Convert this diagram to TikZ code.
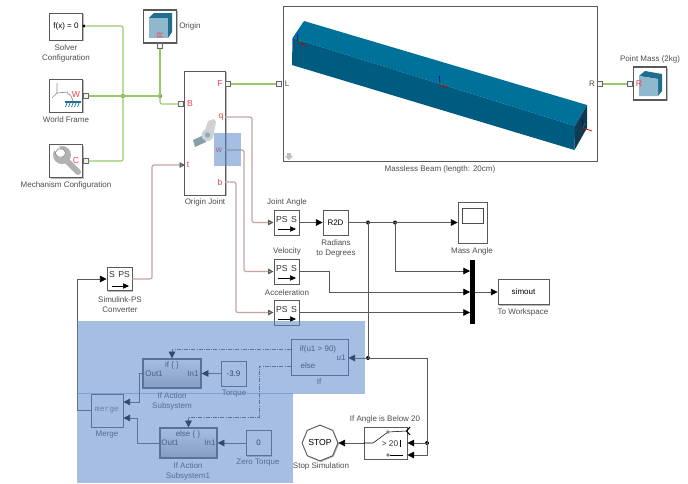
\documentclass[tikz,border=0pt]{standalone}
\usepackage{fontspec}
\setmainfont{Liberation Sans}
\setmonofont{Liberation Mono}
\usetikzlibrary{arrows.meta,shapes.geometric,shadows}
\definecolor{physgreen}{HTML}{97CB68}
\definecolor{physred}{HTML}{C9A3A3}
\definecolor{portred}{HTML}{F0444C}
\definecolor{beamtop}{HTML}{007299}
\definecolor{beamfront}{HTML}{005B80}
\definecolor{beamend}{HTML}{0F3A50}
\definecolor{cubelight}{HTML}{8FB8CC}
\definecolor{cubedark}{HTML}{1F6E90}
\definecolor{selblue}{HTML}{5B88C8}
\tikzset{
	sz/.style 2 args={minimum width=#1*0.75pt,minimum height=#2*0.75pt},
	block/.style={draw=black!65,fill=white,line width=0.7pt,inner sep=0pt,font=\fontsize{6}{7}\selectfont,
		drop shadow={shadow xshift=0.8pt,shadow yshift=-0.8pt,fill=black!45,opacity=0.6}},
	actionblock/.style={block,line width=1.1pt,top color=white,bottom color=black!28},
	lbl/.style={inner sep=0pt,align=center,text=black!70,font=\fontsize{6}{7.6}\selectfont},
	intext/.style={inner sep=0pt,text=black!80,font=\fontsize{6}{7}\selectfont},
	portlbl/.style={inner sep=0pt,text=portred,font=\fontsize{6.5}{7}\selectfont},
	port/.style={draw=black!60,fill=black!5,line width=0.4pt,minimum size=3.6pt,inner sep=0pt},
	jdot/.style={circle,fill=black,minimum size=3pt,inner sep=0pt},
	gdot/.style={circle,fill=physgreen!70!black,minimum size=3.2pt,inner sep=0pt},
	physg/.style={draw=physgreen,line width=0.9pt,rounded corners=1.5pt},
	physr/.style={draw=physred,line width=0.9pt,rounded corners=1.5pt,
		-{Triangle[open,length=4pt,width=4pt,color=black!65]}},
	sig/.style={draw=black!65,line width=0.6pt,-{Triangle[length=5pt,width=5pt,color=black]}},
	wire/.style={draw=black!65,line width=0.6pt},
	action/.style={draw=black!65,line width=0.5pt,densely dashdotted,-{Triangle[length=5pt,width=5pt,color=black]}},
	sel/.style={fill=selblue,opacity=0.55,draw=none}
}
\begin{document}
\begin{tikzpicture}[x=0.75pt,y=-0.75pt]
	\useasboundingbox (0,0) rectangle (688,483);

	% Physical blocks
	\node[block,sz={33}{27}] (solver) at (66,26.5) {f(x) = 0};
	\node[lbl] (solverlbl) at (66,53) {Solver\\Configuration};
	\node[circle,fill=black,minimum size=2.5pt,inner sep=0pt] (solverp) at (84,26) {};
	\node[block,sz={33}{33}] (world) at (66,95.5) {};
	\node[lbl] (worldlbl) at (66,120) {World Frame};
	\node[port] (worldp) at (86,96) {};
	\node[block,sz={33}{33}] (mech) at (66,161) {};
	\node[lbl] (mechlbl) at (66,185.5) {Mechanism Configuration};
	\node[port] (mechp) at (86,161) {};
	\node[block,line width=0.9pt,sz={33}{33}] (origin) at (160,26.5) {};
	\node[lbl,anchor=west] (originlbl) at (179,26.5) {Origin};
	\node[port] (originp) at (160,46) {};
	\node[block,sz={41}{124}] (joint) at (205,133) {};
	\node[lbl] (jointlbl) at (205,202) {Origin Joint};
	\node[port] (jointb) at (181,104) {};
	\node[port] (jointf) at (228,84) {};
	\coordinate (jointq) at (225,117);
	\coordinate (jointw) at (225,150);
	\coordinate (jointt) at (185,165);
	\coordinate (jointbb) at (225,182);
	\node[block,sz={314}{155}] (beam) at (440,83.5) {};
	\node[lbl] (beamlbl) at (440,169) {Massless Beam (length: 20cm)};
	\node[port] (beaml) at (279,84) {};
	\node[port] (beamr) at (600,84) {};
	\node[block,line width=0.9pt,sz={33}{33}] (mass) at (650,83.5) {};
	\node[lbl] (masslbl) at (650,59) {Point Mass (2kg)};
	\node[port] (massp) at (630,84) {};

	% Beam
	\fill[beamtop] (292.5,38) -- (304,21) -- (587,105) -- (575,126) -- cycle;
	\fill[beamfront] (292.5,38) -- (575,126) -- (574.5,150) -- (292,65) -- cycle;
	\fill[beamend] (575,126) -- (587,105) -- (587,128) -- (574.5,150) -- cycle;
	\foreach \ax/\ay in {298/43,440/85,583/128}{
		\draw[blue!80!black,line width=0.5pt] (\ax,\ay) -- (\ax-0.5,\ay-9);
		\draw[green!60!black,line width=0.5pt] (\ax,\ay) -- (\ax+2,\ay-5);
		\draw[red!80!black,line width=0.5pt] (\ax,\ay) -- (\ax+9,\ay+3);
	}
	\fill[black!25] (287,153) -- (291,153) -- (291,156) -- (293,156) -- (289,160) -- (285,156) -- (287,156) -- cycle;
	\node[intext,text=black!70] (beamltxt) at (287,84) {L};
	\node[intext,text=black!70] (beamrtxt) at (592,84) {R};

	% Cubes
	\fill[cubedark] (149,18) -- (154,13) -- (172,13) -- (172,32) -- (168,38) -- (168,18) -- cycle;
	\fill[cubedark] (149,18) -- (154,13) -- (172,13) -- (168,18) -- cycle;
	\fill[cubelight] (149,18) -- (168,18) -- (168,38) -- (149,38) -- cycle;
	\node[portlbl,rotate=90] (originr) at (160,35.5) {R};
	\fill[cubedark] (639,76) -- (645,71) -- (662,74) -- (662,91) -- (658,96) -- (658,79) -- cycle;
	\fill[cubelight] (639,76) -- (658,79) -- (658,96) -- (639,96) -- cycle;
	\node[portlbl] (massr) at (639,84) {R};

	% World frame icon
	\draw[black!45,line width=0.5pt] (57,83) -- (57,93) -- (68,92);
	\draw[black!45,line width=0.5pt] (57,93) -- (52,98);
	\draw[black!45,line width=0.5pt] (67,93) to[bend left=25] (73,101);
	\fill[cubedark] (65,101) rectangle (81,103);
	\foreach \hx in {67,70,73,76,79}{
		\draw[cubedark,line width=0.5pt] (\hx,103) -- (\hx-1.5,107);
	}
	\node[portlbl] (worldw) at (76,95) {W};

	% Wrench icon
	\draw[black!30,line width=4.5pt,line cap=round] (62,156) -- (78,172);
	\fill[black!30] (62,155) circle (9);
	\fill[white] (53,148) -- (58,146) -- (66,154) -- (60,158) -- cycle;
	\draw[black!50,fill=white,line width=0.4pt] (58,149) -- (63,149) -- (66,153) -- (63,157) -- (58,157) -- (55,153) -- cycle;
	\node[portlbl] (mechc) at (76,161) {C};

	% Joint icon
	\fill[black!18] (208,121) -- (214,119) -- (216,122) -- (213,137) -- (204,134) -- cycle;
	\fill[cubedark!60!black!50] (193,140) -- (204,135) -- (206,142) -- (195,147) -- cycle;
	\fill[black!18] (207.5,135) circle (6);
	\fill[cubedark!55] (207.5,135) circle (2.7);
	\node[portlbl] (jointF) at (220,84) {F};
	\node[portlbl] (jointB) at (190,104) {B};
	\node[portlbl] (jointQ) at (221,117) {q};
	\node[portlbl] (jointW) at (219,150) {w};
	\node[portlbl] (jointT) at (188,165) {t};
	\node[portlbl] (jointBB) at (220,182) {b};

	% Signal blocks
	\foreach \nm/\ypos in {anglepos/222.5,velpos/271.5,accpos/312.5}{
		\node[block,sz={25}{25}] (\nm) at (286.5,\ypos) {};
		\node[intext,font=\fontsize{6.5}{7}\selectfont] (\nm txt) at (286.5,\ypos-3) {PS\hspace{2.5pt}S};
		\draw[line width=0.4pt,-{Triangle[length=4.5pt,width=4pt]}] (278,\ypos+6.5) -- (296,\ypos+6.5);
	}
	\node[lbl] (anglelbl) at (287,202) {Joint Angle};
	\node[lbl] (vellbl) at (287,251) {Velocity};
	\node[lbl] (acclbl) at (287,293) {Acceleration};
	\node[block,sz={25}{25}] (r2d) at (335.5,222.5) {R2D};
	\node[lbl] (r2dlbl) at (336,248) {Radians\\to Degrees};
	\node[block,sz={29}{41}] (scope) at (472.5,222.5) {};
	\node[draw=black!70,fill=white,line width=0.4pt,sz={21}{15},inner sep=0pt] (screen) at (472.5,215.5) {};
	\node[lbl] (scopelbl) at (472,251) {Mass Angle};
	\node[fill=black,sz={5}{64},inner sep=0pt] (mux) at (472.5,292) {};
	\node[block,sz={51}{25}] (simout) at (523.5,292) {simout};
	\node[lbl] (simoutlbl) at (523,312) {To Workspace};
	\node[block,sz={25}{23}] (conv) at (119.5,279) {};
	\node[intext,font=\fontsize{6.5}{7}\selectfont] (convtxt) at (119.5,275) {S\hspace{2.5pt}PS};
	\draw[line width=0.4pt,-{Triangle[length=4.5pt,width=4pt]}] (112,286) -- (129,286);
	\node[lbl] (convlbl) at (120,305) {Simulink-PS\\Converter};

	% Stop logic
	\node[draw=black!65,fill=white,line width=0.7pt,regular polygon,regular polygon sides=8,shape border rotate=22.5,minimum size=23pt,inner sep=0pt,font=\fontsize{6.5}{7}\selectfont,
		drop shadow={shadow xshift=0.8pt,shadow yshift=-0.8pt,fill=black!45,opacity=0.6}] (stop) at (320,443) {STOP};
	\node[lbl] (stoplbl) at (321,466) {Stop Simulation};
	\node[block,sz={43}{32}] (switch) at (385.5,443) {};
	\node[lbl] (switchlbl) at (385,419) {If Angle is Below 20};
	\node[intext,font=\fontsize{6.2}{7}\selectfont] (switchtxt) at (390,444) {> 20};
	\node[draw=black,fill=white,circle,minimum size=2pt,inner sep=0pt,line width=0.3pt] (swtop) at (388,432) {};
	\node[draw=black,fill=white,circle,minimum size=2pt,inner sep=0pt,line width=0.3pt] (swbot) at (388,455) {};
	\coordinate (swmid) at (373,443);
	\coordinate (swin) at (407.5,443);
	\coordinate (swinb) at (407.5,455);
	\draw[line width=0.4pt] (switch.west) -- (swmid) -- (swtop);
	\draw[line width=0.4pt] (swtop) -- (406,431);
	\draw[line width=0.4pt] (swbot) -- (403,455);
	\draw[line width=0.4pt] (400,440) -- (400,447);
	\draw[line width=0.8pt] (410,427) -- (406.5,431) -- (410,435);

	% If blocks
	\node[block,sz={57}{36}] (ifblk) at (319.5,357) {};
	\node[intext] (iftxt) at (318,349.5) {if(u1 > 90)};
	\node[intext] (elsetxt) at (308,366) {else};
	\node[intext] (u1txt) at (341,358) {u1};
	\node[lbl] (iflbl) at (319,382) {If};
	\node[actionblock,sz={58}{29}] (act) at (172,373.5) {};
	\node[intext] (acttxt) at (172,365) {if \{ \}};
	\node[intext] (actout) at (154,374) {Out1};
	\node[intext] (actin) at (193,374) {In1};
	\node[lbl] (actlbl) at (172,401.5) {If Action\\Subsystem};
	\node[block,sz={25}{25}] (torque) at (233.5,373.5) {-3.9};
	\node[lbl] (torquelbl) at (234,394) {Torque};
	\node[actionblock,sz={57}{30}] (act1) at (188.5,443) {};
	\node[intext] (act1txt) at (188,434) {else \{ \}};
	\node[intext] (act1out) at (170,443) {Out1};
	\node[intext] (act1in) at (210,443) {In1};
	\node[lbl] (act1lbl) at (188,471) {If Action\\Subsystem1};
	\node[block,sz={25}{25}] (zero) at (258.5,443) {0};
	\node[lbl] (zerolbl) at (258,463) {Zero Torque};
	\node[block,sz={32}{33},text=black!55] (merge) at (107,410.5) {\ttfamily merge};
	\node[lbl] (mergelbl) at (107,435) {Merge};

	% Physical connections
	\coordinate (jleft) at (123,96);
	\coordinate (jorigin) at (160,96);
	\node[gdot] (jleftdot) at (jleft) {};
	\node[gdot] (jorigindot) at (jorigin) {};
	\draw[physg] (solverp) -| (jleft);
	\draw[physg] (mechp) -| (jleft);
	\draw[physg] (worldp) -- (jleft) -- (jorigin);
	\draw[physg] (originp) -- (jorigin);
	\draw[physg] (jorigin) |- (jointb);
	\draw[physg] (jointf) -- (beaml);
	\draw[physg] (beamr) -- (massp);
	\draw[physr] (jointq) -| (252,222.5) -- (anglepos.west);
	\draw[physr] (jointw) -| (244,271.5) -- (velpos.west);
	\draw[physr] (jointbb) -| (236,312.5) -- (accpos.west);
	\draw[physr] (conv.east) -| (152,165) -- (jointt);

	% Signal connections
	\coordinate (jr2d) at (368,222.5);
	\coordinate (jscope) at (395,222.5);
	\coordinate (jif) at (368,358);
	\coordinate (jswitch) at (427,443);
	\node[jdot] (jr2ddot) at (jr2d) {};
	\node[jdot] (jscopedot) at (jscope) {};
	\node[jdot] (jifdot) at (jif) {};
	\node[jdot] (jswitchdot) at (jswitch) {};
	\draw[sig] (anglepos.east) -- (r2d.west);
	\draw[sig] (r2d.east) -- (scope.west);
	\draw[sig] (jscope) |- (470,271);
	\draw[sig] (velpos.east) -| (329,292) -- (470,292);
	\draw[sig] (accpos.east) -- (470,312.5);
	\draw[sig] (mux.east) -- (simout.west);
	\draw[wire] (jr2d) -- (jif);
	\draw[sig] (jif) -- (ifblk.east |- jif);
	\draw[wire] (jif) -| (jswitch);
	\draw[sig] (jswitch) -- (swin);
	\draw[sig] (jswitch) |- (swinb);
	\draw[sig] (switch.west) -- (stop.east);
	\draw[sig] (torque.west) -- (act.east);
	\draw[sig] (zero.west) -- (act1.east);
	\draw[sig] (act.west) -| (139,402) -- (merge.east |- 0,402);
	\draw[sig] (act1.west) -| (137,418) -- (merge.east |- 0,418);
	\draw[sig] (merge.west) -| (77,279) -- (conv.west);
	\draw[action] (ifblk.west |- 0,349) -| (act.north);
	\draw[action] (ifblk.west |- 0,366) -| (259,417) -| (act1.north);

	% Highlighted areas
	\fill[sel] (214,133) rectangle (241,166);
	\fill[sel] (77,321) rectangle (365,393.5);
	\fill[sel] (77,393) rectangle (293,483);
\end{tikzpicture}
\end{document}
